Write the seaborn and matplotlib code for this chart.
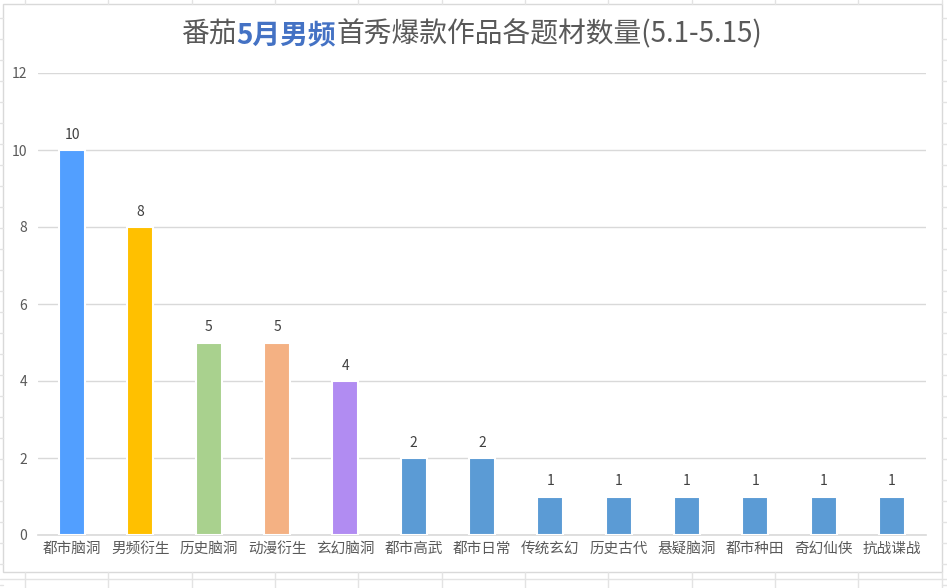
import matplotlib
matplotlib.use("Agg")
import matplotlib.pyplot as plt
import seaborn as sns
import pandas as pd
from matplotlib.lines import Line2D
from matplotlib.patches import Rectangle
from matplotlib.ticker import FixedLocator

categories = ["都市脑洞", "男频衍生", "历史脑洞", "动漫衍生", "玄幻脑洞", "都市高武", "都市日常",
              "传统玄幻", "历史古代", "悬疑脑洞", "都市种田", "奇幻仙侠", "抗战谍战"]
counts = [10, 8, 5, 5, 4, 2, 2, 1, 1, 1, 1, 1, 1]
bar_colors = ["#529FFF", "#FFC000", "#A9D18E", "#F4B183", "#B18CF2"] + ["#5B9BD5"] * 8
title_parts = ["番茄", "5月男频", "首秀爆款作品各题材数量(5.1-5.15)"]
y_ticks = [0, 2, 4, 6, 8, 10, 12]

sns.set_theme(style="white")
plt.rcParams['font.family'] = ['Noto Sans CJK SC', 'DejaVu Sans']

W, H = 947, 588
fig = plt.figure(figsize=(W / 100, H / 100), dpi=100)
fig.patch.set_facecolor("white")

# spreadsheet background grid (outside the chart frame)
grid_c = "#E3E3E3"
for k in range(12):
    x = 25 + 83.33 * k
    for (y0, y1) in [(0, 4), (572, 588)]:
        fig.add_artist(Line2D([x / W, x / W], [1 - y0 / H, 1 - y1 / H], color=grid_c, lw=1))
for k in range(30):
    y = 18 + 21 * k
    for (x0, x1) in [(0, 3), (942, 947)]:
        fig.add_artist(Line2D([x0 / W, x1 / W], [1 - y / H, 1 - y / H], color=grid_c, lw=1))
fig.add_artist(Line2D([0, 1], [1 - 579 / H, 1 - 579 / H], color=grid_c, lw=1))

# chart frame
fig.add_artist(Rectangle((3 / W, 1 - 572 / H), 939 / W, 568 / H, transform=fig.transFigure,
                         facecolor="white", edgecolor="#D9D9D9", lw=1, zorder=0))

ax = fig.add_axes([38 / W, 1 - 535 / H, (926 - 38) / W, (535 - 73) / H])
ax.set_facecolor("none")

df = pd.DataFrame({"cat": categories, "n": counts})
sns.barplot(data=df, x="cat", y="n", hue="cat", palette=bar_colors, legend=False,
            width=0.38, ax=ax, edgecolor="white", linewidth=1.5, zorder=3, saturation=1)

ax.set_ylim(0, 12)
ax.set_xlim(-0.5, len(categories) - 0.5)
ax.set_yticks(y_ticks)
ax.yaxis.grid(True, color="#D9D9D9", lw=1)
ax.set_axisbelow(True)
for s in ["top", "right", "left"]:
    ax.spines[s].set_visible(False)
ax.spines["bottom"].set_color("#D9D9D9")
ax.spines["bottom"].set_linewidth(1.2)
ax.set_xlabel("")
ax.set_ylabel("")

ax.tick_params(axis="y", length=0, pad=8, labelsize=10, labelcolor="#595959")
ax.tick_params(axis="x", which="major", length=0, pad=5, labelsize=10.5, labelcolor="#595959")
ax.xaxis.set_minor_locator(FixedLocator([i - 0.5 for i in range(len(categories) + 1)]))
ax.tick_params(axis="x", which="minor", length=5, color="#D9D9D9", width=1.2)

for i, v in enumerate(counts):
    ax.annotate(str(v), (i, v), xytext=(0, 6), textcoords="offset points",
                ha="center", va="bottom", fontsize=10, color="#404040")

# mixed-style title
t1 = fig.text(181 / W, 1 - 34 / H, title_parts[0], fontsize=20, color="#595959",
              ha="left", va="center")
t2 = ax.annotate(title_parts[1], xy=(1, 0), xycoords=t1, ha="left", va="bottom",
                 fontsize=20, color="#4472C4", fontweight="bold", annotation_clip=False)
t3 = ax.annotate(title_parts[2], xy=(1, 0), xycoords=t2, ha="left", va="bottom",
                 fontsize=20, color="#595959", annotation_clip=False)

fig.savefig("out.png", dpi=100, facecolor="white")
